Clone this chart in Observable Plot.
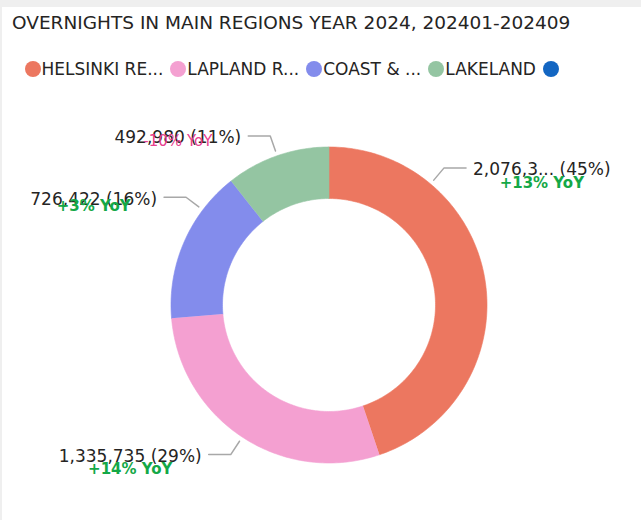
<!DOCTYPE html>
<html>
<head>
<meta charset="utf-8">
<script src="https://cdn.jsdelivr.net/npm/d3@7"></script>
<script src="https://cdn.jsdelivr.net/npm/@observablehq/plot@0.6"></script>
<style>
  html, body { margin: 0; padding: 0; background: #efefef; width: 641px; height: 520px; overflow: hidden; }
  #card { position: absolute; left: 2px; top: 7px; width: 639px; height: 513px; background: #ffffff; }
  #title { position: absolute; left: 12px; top: 13px; font-family: "DejaVu Sans", sans-serif; font-size: 18.5px; line-height: 20px; color: #252423; white-space: nowrap; }
  #legend { position: absolute; left: 24.5px; top: 60px; height: 18px; width: 541.5px; overflow: hidden; display: flex; gap: 7px; align-items: center; white-space: nowrap; }
  .item { display: flex; align-items: center; flex: none; }
  .dot { width: 16px; height: 16px; border-radius: 50%; flex: none; }
  .lab { margin-left: 1px; font-family: "DejaVu Sans", sans-serif; font-size: 17px; line-height: 18px; color: #252423; }
  #chart { position: absolute; left: 0; top: 90px; }
  #chart svg { display: block; }
</style>
</head>
<body>
<div id="card"></div>
<div id="title">OVERNIGHTS IN MAIN REGIONS YEAR 2024, 202401-202409</div>
<div id="legend"></div>
<div id="chart"></div>
<script>
// ---- data ----
const regions = ["HELSINKI REGION", "LAPLAND REGION", "COAST & ARCHIPELAGO", "LAKELAND", "OTHER"];
const legendLabels = ["HELSINKI RE...", "LAPLAND R...", "COAST & ...", "LAKELAND", "OTHER"];
const overnights = [2076300, 1335735, 726422, 492980, 0];
const yoyPct = [13, 14, 3, -10, null];
const colors = ["#EC7760", "#F4A0D1", "#838CEC", "#94C5A2", "#1366C2"];

// ---- layout (not data) ----
const W = 641, H = 430;
const cx = 328.5, cy = 214.5;       // donut centre in svg pixels
const R = 158, R0 = 106.5;          // outer / inner radius
const labelAngleOverride = {"HELSINKI REGION": 40, "COAST & ARCHIPELAGO": 307};
const yoyOffset = {"HELSINKI REGION": 15.5, "LAPLAND REGION": 15, "COAST & ARCHIPELAGO": 9, "LAKELAND": 5.5};
const valueTruncate = {"HELSINKI REGION": 7};

const rows = regions.map((r, i) => ({region: r, value: overnights[i], yoy: yoyPct[i]}));
const total = d3.sum(rows, d => d.value);
const arcs = d3.pie().sort(null).value(d => d.value).startAngle(0).endAngle(2 * Math.PI)(rows)
  .filter(a => a.data.value > 0);

// slice polygons
const slicePts = [];
for (const a of arcs) {
  const n = Math.max(2, Math.ceil((a.endAngle - a.startAngle) / (Math.PI / 180)));
  for (let k = 0; k <= n; k++) {
    const t = a.startAngle + (a.endAngle - a.startAngle) * k / n;
    slicePts.push({region: a.data.region, x: R * Math.sin(t), y: R * Math.cos(t)});
  }
  for (let k = n; k >= 0; k--) {
    const t = a.startAngle + (a.endAngle - a.startAngle) * k / n;
    slicePts.push({region: a.data.region, x: R0 * Math.sin(t), y: R0 * Math.cos(t)});
  }
}

// leader lines + labels
const fmt = d3.format(",");
const ctx = document.createElement("canvas").getContext("2d");
ctx.font = "17px 'DejaVu Sans'";
const leaderPts = [], labels = [];
for (const a of arcs) {
  const r = a.data.region;
  const ang = labelAngleOverride[r] != null ? labelAngleOverride[r] * Math.PI / 180 : (a.startAngle + a.endAngle) / 2;
  const side = Math.sin(ang) >= 0 ? 1 : -1;
  const p0 = {x: (R + 5) * Math.sin(ang), y: (R + 5) * Math.cos(ang)};
  const p1 = {x: (R + 21) * Math.sin(ang), y: (R + 21) * Math.cos(ang)};
  const p2 = {x: p1.x + side * 22, y: p1.y};
  leaderPts.push({region: r, ...p0}, {region: r, ...p1}, {region: r, ...p2});
  let vs = fmt(a.data.value);
  if (valueTruncate[r]) vs = vs.slice(0, valueTruncate[r]) + "...";
  const text = `${vs} (${Math.round(a.data.value / total * 100)}%)`;
  const tx = p2.x + side * 7;
  const w = ctx.measureText(text).width;
  const yoy = a.data.yoy;
  labels.push({
    region: r, side, x: tx, y: p2.y, text,
    cxText: tx + side * w / 2,
    yy: p2.y - (yoyOffset[r] || 14),
    yoy, yoyText: yoy == null ? "" : `${yoy > 0 ? "+" : ""}${yoy}% YoY`
  });
}

const font = "DejaVu Sans";
const chart = Plot.plot({
  width: W, height: H,
  margin: 0,
  x: {type: "linear", domain: [-cx, W - cx], axis: null},
  y: {type: "linear", domain: [-(H - cy), cy], axis: null},
  color: {domain: regions, range: colors},
  style: {background: "transparent", overflow: "visible"},
  marks: [
    Plot.line(slicePts, {x: "x", y: "y", z: "region", fill: "region", stroke: "region", strokeWidth: 0.6}),
    Plot.line(leaderPts, {x: "x", y: "y", z: "region", stroke: "#A8A8A8", strokeWidth: 1.5}),
    Plot.text(labels.filter(d => d.side > 0), {x: "x", y: "y", text: "text", textAnchor: "start", lineAnchor: "middle", dy: 2, fontFamily: font, fontSize: 17, fill: "#252423"}),
    Plot.text(labels.filter(d => d.side < 0), {x: "x", y: "y", text: "text", textAnchor: "end", lineAnchor: "middle", dy: 2, fontFamily: font, fontSize: 17, fill: "#252423"}),
    Plot.text(labels.filter(d => d.yoy != null && d.yoy >= 0), {x: "cxText", y: "yy", text: "yoyText", textAnchor: "middle", lineAnchor: "middle", fontFamily: font, fontSize: 15, fontWeight: "bold", fill: "#14A847"}),
    Plot.text(labels.filter(d => d.yoy != null && d.yoy < 0), {x: "cxText", y: "yy", text: "yoyText", textAnchor: "middle", lineAnchor: "middle", fontFamily: font, fontSize: 15, fill: "#E8408F"})
  ]
});
document.getElementById("chart").appendChild(chart);

// legend built from the chart's colour scale
const cs = chart.scale("color");
const leg = document.getElementById("legend");
let lastDot = null;
cs.domain.forEach((r, i) => {
  const item = document.createElement("div");
  item.className = "item";
  const dot = document.createElement("span");
  dot.className = "dot";
  dot.style.background = cs.range[i];
  const lab = document.createElement("span");
  lab.className = "lab";
  lab.textContent = legendLabels[i];
  item.append(dot, lab);
  leg.appendChild(item);
  lastDot = dot;
});
// the visual's legend is clipped just after the last swatch
const legRect = leg.getBoundingClientRect();
const dotRect = lastDot.getBoundingClientRect();
leg.style.width = (dotRect.right - legRect.left + 1) + "px";
</script>
</body>
</html>
